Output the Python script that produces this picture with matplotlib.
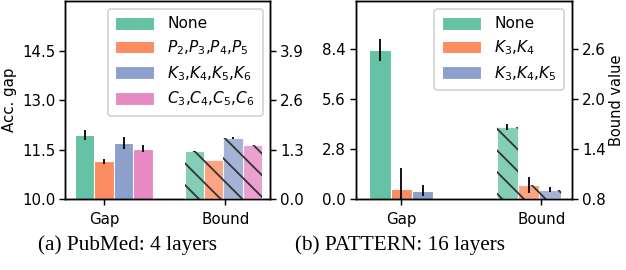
import numpy as np
import matplotlib
matplotlib.use('Agg')
import matplotlib.pyplot as plt

# Data
groups = ['Gap', 'Bound']
colors = ['#66c2a5', '#fc8d62', '#8da0cb', '#e78ac3']

labels_a = ['None', '$P_2$,$P_3$,$P_4$,$P_5$', '$K_3$,$K_4$,$K_5$,$K_6$', '$C_3$,$C_4$,$C_5$,$C_6$']
gap_a = [11.94, 11.14, 11.69, 11.52]
gap_err_a = [0.16, 0.08, 0.18, 0.11]
bound_a = [1.25, 1.02, 1.60, 1.42]
bound_err_a = [0.02, 0.0, 0.03, 0.01]

labels_b = ['None', '$K_3$,$K_4$', '$K_3$,$K_4$,$K_5$']
gap_b = [8.33, 0.58, 0.47]
gap_err_b = [0.62, 1.17, 0.31]
bound_b = [1.665, 0.97, 0.91]
bound_err_b = [0.038, 0.093, 0.028]

DPI = 130
plt.rcParams['font.family'] = 'DejaVu Sans'
plt.rcParams['font.size'] = 8.3
plt.rcParams['hatch.linewidth'] = 1.0

fig = plt.figure(figsize=(626 / DPI, 270 / DPI), dpi=DPI)


def panel(rect, labels, gap, gap_err, bound, bound_err, w, ylim, ylim2, yt, yt2, xlim,
          left_label=None, right_label=None):
    ax = fig.add_axes(rect)
    ax2 = ax.twinx()
    handles = []
    for k, lab in enumerate(labels):
        h = ax.bar(0 + (k - 1) * w, gap[k], w, color=colors[k], edgecolor='white', linewidth=0.6,
                   label=lab)
        ax.errorbar(0 + (k - 1) * w, gap[k], yerr=gap_err[k], color='black', lw=1.0, capsize=0)
        handles.append(h)
        xb = 1 + (k - 1.6) * w
        ax2.bar(xb, bound[k], w, color=colors[k], alpha=0.8, edgecolor='white', linewidth=0.6)
        ax2.bar(xb, bound[k], w, fill=False, hatch='\\\\', edgecolor='#333333', linewidth=0)
        if bound_err[k] > 0:
            ax2.errorbar(xb, bound[k], yerr=bound_err[k], color='black', lw=1.0, capsize=0)
    ax.set_xlim(*xlim)
    ax.set_ylim(*ylim)
    ax2.set_ylim(*ylim2)
    ax.set_yticks(yt)
    ax2.set_yticks(yt2)
    ax.set_yticklabels([f'{v:.1f}' for v in yt])
    ax2.set_yticklabels([f'{v:.1f}' for v in yt2])
    ax.tick_params(axis='y', pad=2)
    ax2.tick_params(axis='y', pad=2)
    ax.set_xticks([0, 1])
    ax.set_xticklabels(groups)
    if left_label:
        ax.set_ylabel(left_label, labelpad=3)
    if right_label:
        ax2.set_ylabel(right_label, labelpad=1.5, fontsize=8.1)
    ax2.legend(handles=handles, loc='upper right', fontsize=8.5, handlelength=2.5,
               handleheight=0.9, handletextpad=0.9, labelspacing=0.45, borderpad=0.5)
    return ax, ax2


panel([0.104, 0.263, 0.328, 0.733], labels_a, gap_a, gap_err_a, bound_a, bound_err_a,
      0.16, (10, 16), (0, 5.2), [10.0, 11.5, 13.0, 14.5], [0.0, 1.3, 2.6, 3.9],
      (-0.322, 1.372), left_label='Acc. gap')

panel([0.568, 0.263, 0.346, 0.733], labels_b, gap_b, gap_err_b, bound_b, bound_err_b,
      0.152, (0, 11.05), (0.8, 3.17), [0.0, 2.8, 5.6, 8.4], [0.8, 1.4, 2.0, 2.6],
      (-0.326, 1.22), right_label='Bound value')

fig.text(0.203, 0.093, '(a) PubMed: 4 layers', ha='center', va='center',
         family='Liberation Serif', fontsize=11.8)
fig.text(0.639, 0.093, '(b) PATTERN: 16 layers', ha='center', va='center',
         family='Liberation Serif', fontsize=11.8)

fig.savefig('out.png', dpi=DPI)
